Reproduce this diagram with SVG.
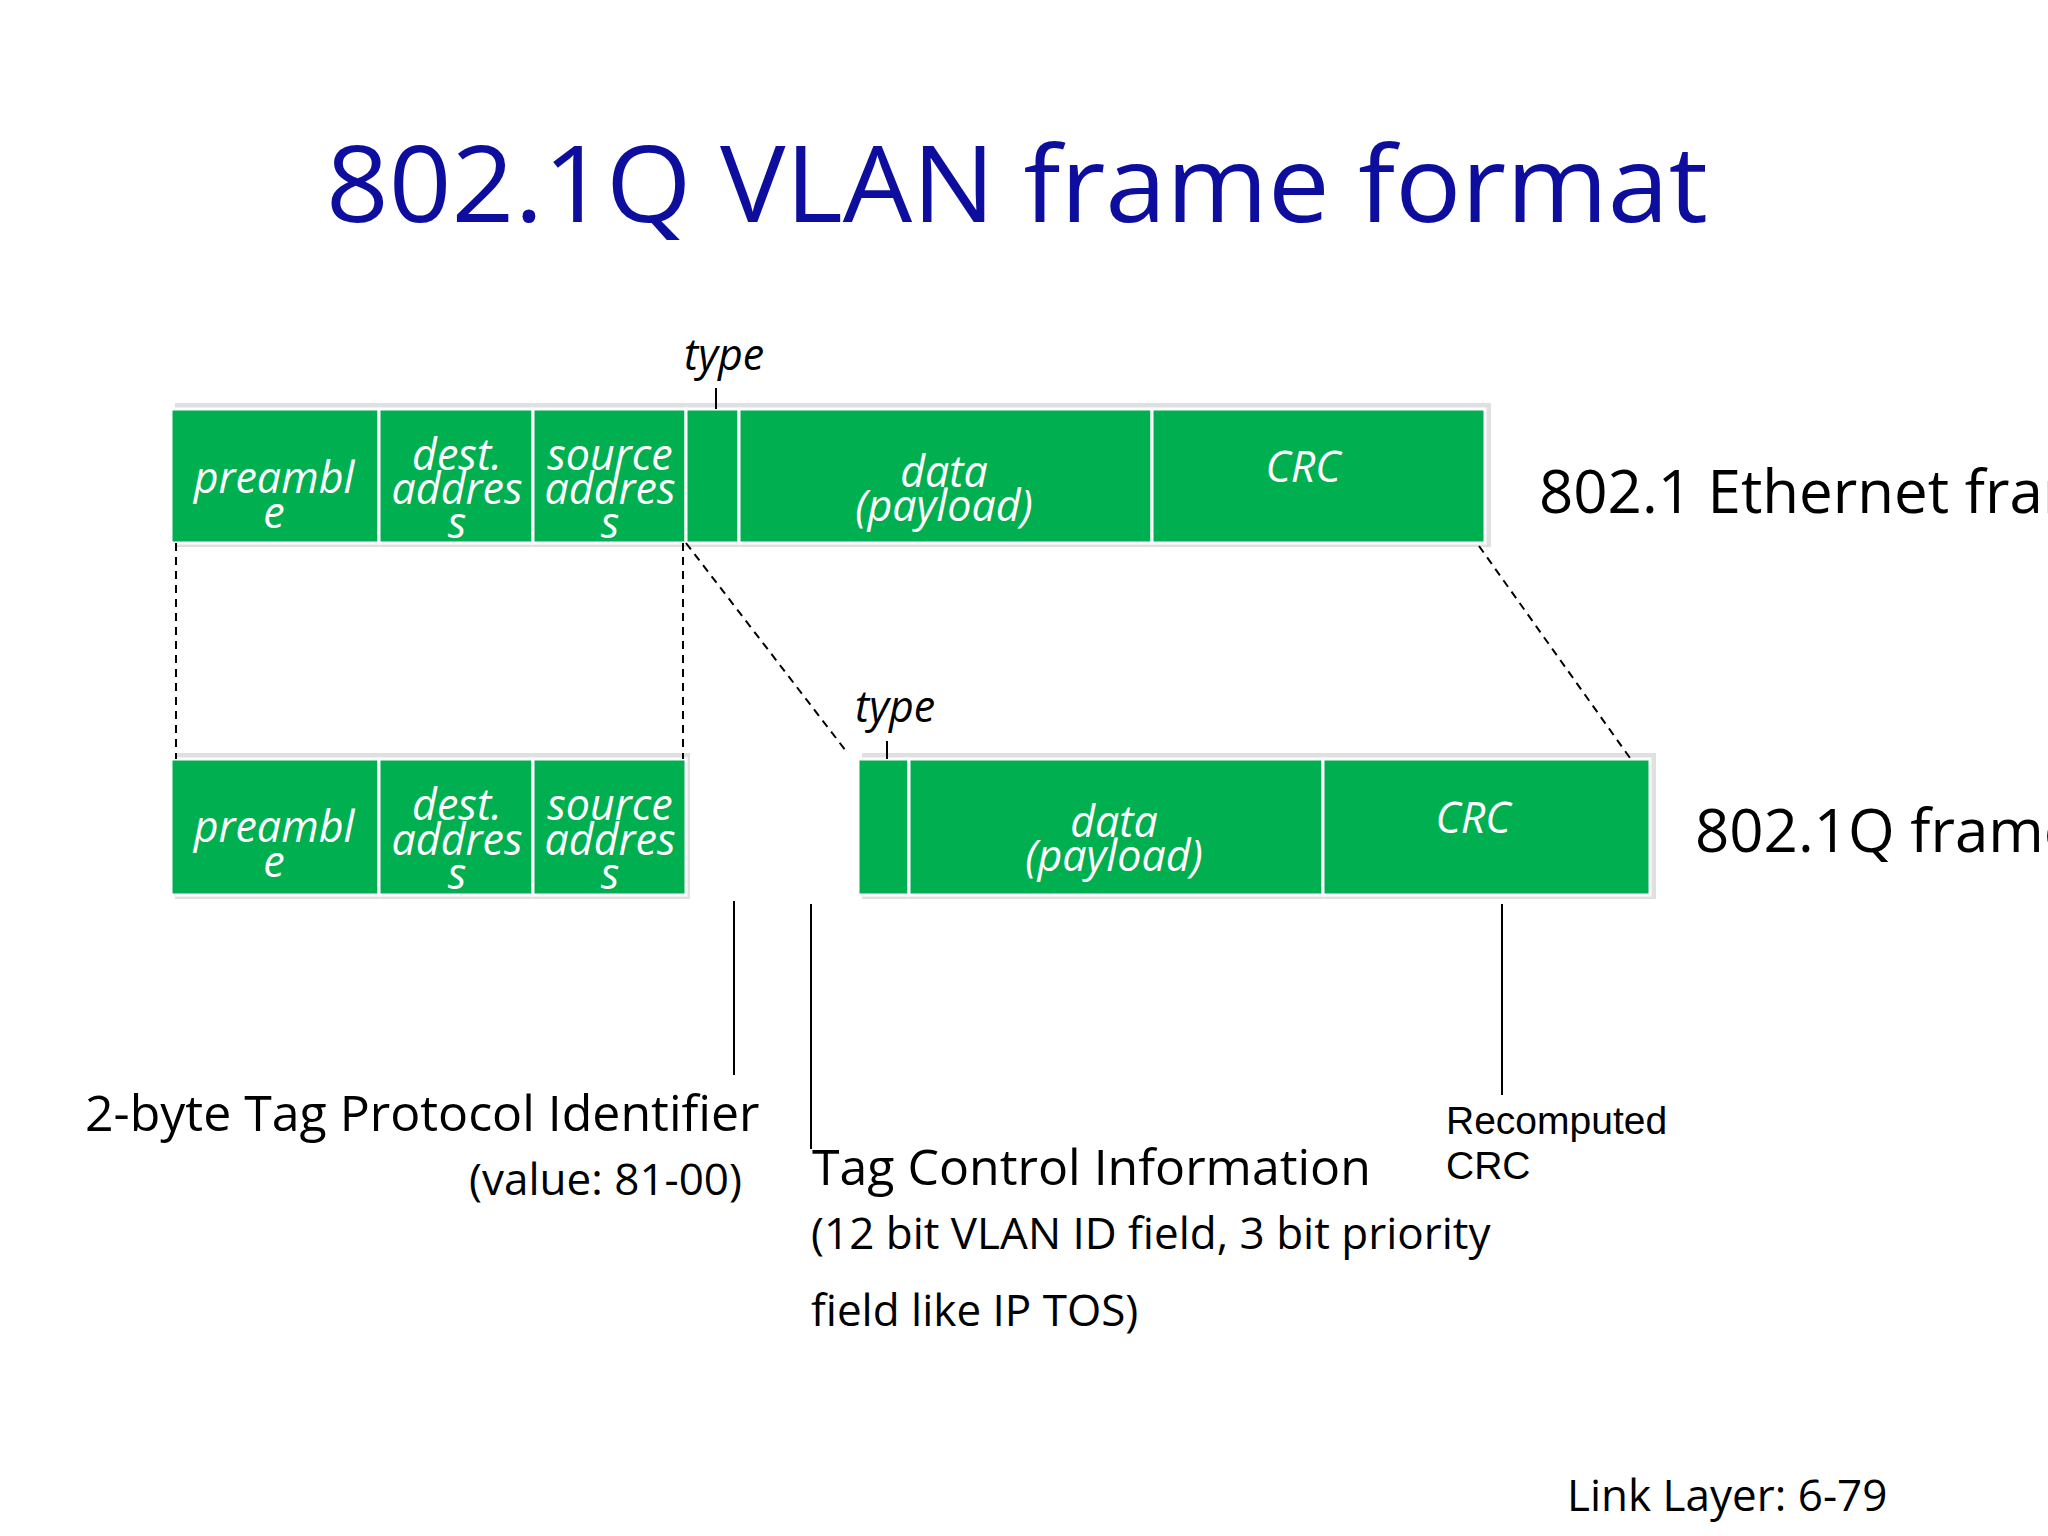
<svg xmlns="http://www.w3.org/2000/svg" width="2048" height="1536" viewBox="0 0 2048 1536">
<style>
.f{fill:#00b050;stroke:#fff;stroke-width:3}
.sh{fill:#ccc;opacity:0.6}
.t{font-family:"Open Sans",sans-serif;font-style:italic;font-size:43px;fill:#fff;text-anchor:middle}
.k{font-family:"Open Sans",sans-serif;fill:#000}
.d{stroke:#000;stroke-width:2;stroke-dasharray:8,6;fill:none}
.s{stroke:#000;stroke-width:2;fill:none}
</style>
<rect width="2048" height="1536" fill="#fff"/>
<text x="326" y="222" font-family="'Open Sans',sans-serif" font-size="106" textLength="1382" lengthAdjust="spacingAndGlyphs" fill="#0d0d9e">802.1Q VLAN frame format</text>
<g id="top-frame">
<rect class="sh" x="175" y="403" width="1316" height="144"/>
<rect class="f" x="171" y="409" width="208" height="134"/>
<rect class="f" x="379" y="409" width="154" height="134"/>
<rect class="f" x="533" y="409" width="153" height="134"/>
<rect class="f" x="686" y="409" width="53" height="134"/>
<rect class="f" x="739" y="409" width="413" height="134"/>
<rect class="f" x="1152" y="409" width="333" height="134"/>
<text class="t" x="274" y="493">preambl</text><text class="t" x="274" y="528">e</text>
<text class="t" x="457" y="470">dest.</text><text class="t" x="457" y="504">addres</text><text class="t" x="457" y="538">s</text>
<text class="t" x="610" y="470">source</text><text class="t" x="610" y="504">addres</text><text class="t" x="610" y="538">s</text>
<text class="t" x="944" y="487">data</text><text class="t" x="944" y="521">(payload)</text>
<text class="t" x="1303" y="482">CRC</text>
<text class="k" x="684" y="370" font-size="43" font-style="italic">type</text>
<text class="k" x="1539" y="513" font-size="60">802.1 Ethernet frame</text>
</g>
<g id="bottom-frame">
<rect class="sh" x="175" y="753" width="515" height="146"/>
<rect class="sh" x="862" y="753" width="794" height="146"/>
<rect class="f" x="171" y="759" width="208" height="136"/>
<rect class="f" x="379" y="759" width="154" height="136"/>
<rect class="f" x="533" y="759" width="153" height="136"/>
<rect class="f" x="858" y="759" width="51" height="136"/>
<rect class="f" x="909" y="759" width="414" height="136"/>
<rect class="f" x="1323" y="759" width="327" height="136"/>
<text class="t" x="274" y="842">preambl</text><text class="t" x="274" y="877">e</text>
<text class="t" x="457" y="820">dest.</text><text class="t" x="457" y="855">addres</text><text class="t" x="457" y="889">s</text>
<text class="t" x="610" y="820">source</text><text class="t" x="610" y="855">addres</text><text class="t" x="610" y="889">s</text>
<text class="t" x="1114" y="837">data</text><text class="t" x="1114" y="871">(payload)</text>
<text class="t" x="1473" y="833">CRC</text>
<text class="k" x="855" y="722" font-size="43" font-style="italic">type</text>
<text class="k" x="1695" y="852" font-size="60">802.1Q frame</text>
</g>
<g id="connectors">
<line class="s" x1="716" y1="388" x2="716" y2="409"/>
<line class="s" x1="887" y1="741" x2="887" y2="759"/>
<line class="d" x1="176" y1="543" x2="176" y2="759"/>
<line class="d" x1="683" y1="543" x2="683" y2="759"/>
<line class="d" x1="686" y1="543" x2="846" y2="751"/>
<line class="d" x1="1479" y1="546" x2="1630" y2="758"/>
<line class="s" x1="734" y1="901" x2="734" y2="1075"/>
<line class="s" x1="811" y1="904" x2="811" y2="1149"/>
<line class="s" x1="1502" y1="904" x2="1502" y2="1095"/>
</g>
<g id="labels">
<text class="k" x="85" y="1131" font-size="50">2-byte Tag Protocol Identifier</text>
<text class="k" x="742" y="1195" font-size="44" text-anchor="end">(value: 81-00)</text>
<text class="k" x="812" y="1185" font-size="50">Tag Control Information</text>
<text class="k" x="811" y="1249" font-size="44">(12 bit VLAN ID field, 3 bit priority</text>
<text class="k" x="811" y="1326" font-size="44">field like IP TOS)</text>
<text x="1446" y="1134" font-family="'Liberation Sans',sans-serif" font-size="39">Recomputed</text>
<text x="1446" y="1179" font-family="'Liberation Sans',sans-serif" font-size="39">CRC</text>
<text class="k" x="1567" y="1511" font-size="44">Link Layer: 6-79</text>
</g>
</svg>
